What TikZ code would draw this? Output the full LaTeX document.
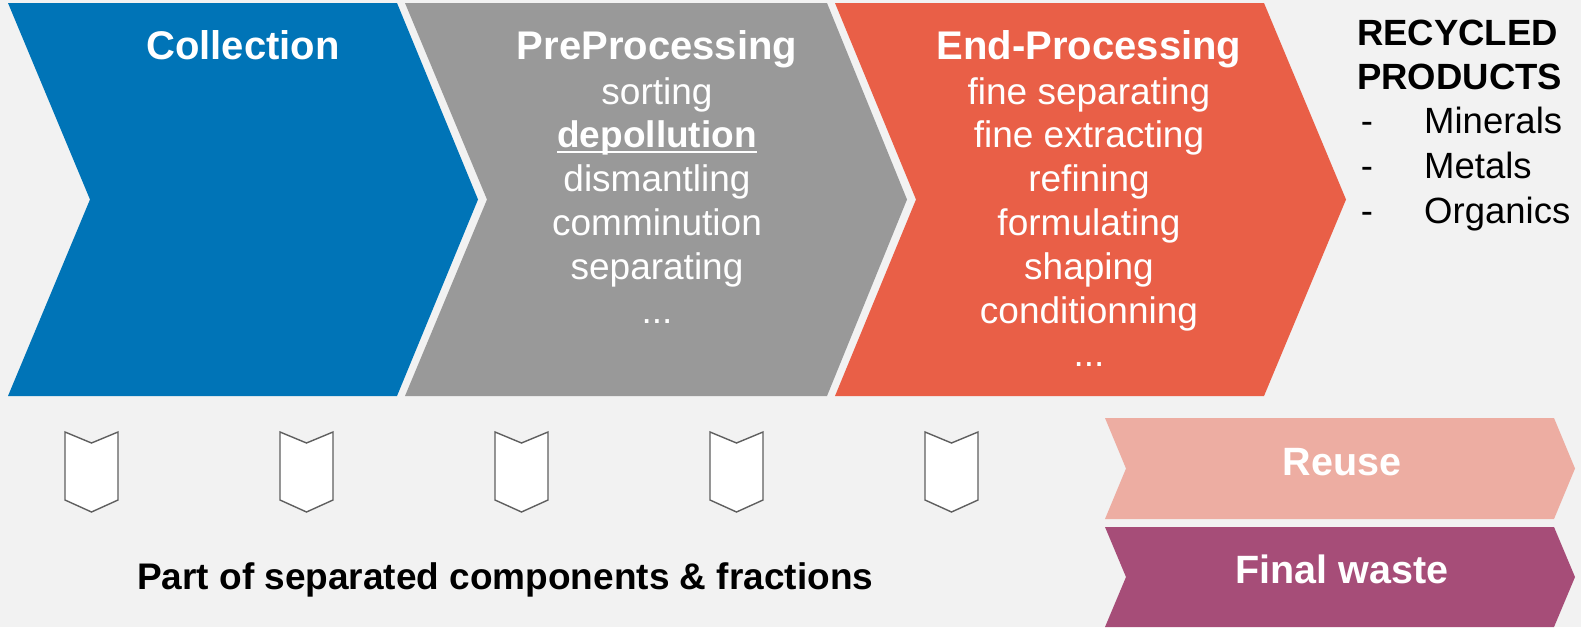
\documentclass[tikz,border=0pt]{standalone}
\usepackage{fontspec}
\setmainfont{Liberation Sans}
\definecolor{bgc}{HTML}{F2F2F2}
\definecolor{collectc}{HTML}{0074B7}
\definecolor{prec}{HTML}{999999}
\definecolor{endc}{HTML}{E95F47}
\definecolor{reusec}{HTML}{EDADA2}
\definecolor{wastec}{HTML}{A64D78}
\definecolor{fracc}{HTML}{5F5F5F}
% trailing "and so on" line of each step list
\newcommand\morerow{...}
\begin{document}
\begin{tikzpicture}[x=1pt,y=-1pt,
  head/.style={font=\fontsize{40}{44}\selectfont\bfseries, text=white, inner sep=0pt, anchor=base},
  body/.style={font=\fontsize{37}{44}\selectfont, text=white, inner sep=0pt, anchor=base},
  side/.style={font=\fontsize{36.5}{44}\selectfont, text=black, inner sep=0pt, anchor=base west},
  sidehead/.style={side, font=\fontsize{36.5}{44}\selectfont\bfseries},
  outhead/.style={font=\fontsize{39.5}{44}\selectfont\bfseries, text=white, inner sep=0pt, anchor=base},
  note/.style={font=\fontsize{37}{44}\selectfont\bfseries, text=black, inner sep=0pt, anchor=base west},
  fraction/.style={draw=fracc, fill=white, line width=1.4pt, line join=miter}]
\useasboundingbox (0,0) rectangle (1581,627);
\fill[bgc] (0,0) rectangle (1581,627);

% main process chevrons
\fill[collectc] (8,3) -- (397,3) -- (478,199.5) -- (397,396) -- (8,396) -- (90,199.5) -- cycle;
\fill[prec] (405,3) -- (827,3) -- (907,199.5) -- (827,396) -- (405,396) -- (487,199.5) -- cycle;
\fill[endc] (835,3) -- (1264,3) -- (1346,199.5) -- (1264,396) -- (835,396) -- (916,199.5) -- cycle;

% outcome chevrons
\fill[reusec] (1105,418) -- (1554,418) -- (1575,468.5) -- (1554,519) -- (1105,519) -- (1126,468.5) -- cycle;
\fill[wastec] (1105,527) -- (1554,527) -- (1575,577) -- (1554,627) -- (1105,627) -- (1126,577) -- cycle;

% separated fractions
\foreach \i in {0,1,2,3,4}{
  \draw[fraction] ({65+215*\i},432) -- ({91.5+215*\i},443) -- ({118+215*\i},432)
    -- ({118+215*\i},500) -- ({91.5+215*\i},512) -- ({65+215*\i},500) -- cycle;
}

% stage titles
\node[head] (collection) at (243,59) {Collection};
\node[head] (pre) at (657,59) {PreProcessing};
\node[head] (endp) at (1089,59) {End-Processing};

% pre-processing steps
\foreach \t [count=\k] in {sorting,{\bfseries depollution},dismantling,comminution,separating,\morerow}{
  \node[body] (pre\k) at (657,{104+43.8*(\k-1)}) {\t};
}
\draw[white, line width=2.6pt] ([yshift=-4pt]pre2.base west) -- ([yshift=-4pt]pre2.base east);

% end-processing steps
\foreach \t [count=\k] in {fine separating,fine extracting,refining,formulating,shaping,conditionning,\morerow}{
  \node[body] (endp\k) at (1089,{104+43.8*(\k-1)}) {\t};
}

% recycled products
\node[sidehead] (rec1) at (1357,45) {RECYCLED};
\node[sidehead] (rec2) at (1357,89) {PRODUCTS};
\foreach \t [count=\k] in {Minerals,Metals,Organics}{
  \node[side, anchor=base] (dash\k) at (1367,{133+45*(\k-1)}) {-};
  \node[side] (prod\k) at (1424,{133+45*(\k-1)}) {\t};
}

% outcomes
\node[outhead] (reuse) at (1342,475) {Reuse};
\node[outhead] (waste) at (1342,583) {Final waste};
\node[note] (parts) at (137,589) {Part of separated components \& fractions};
\end{tikzpicture}
\end{document}
